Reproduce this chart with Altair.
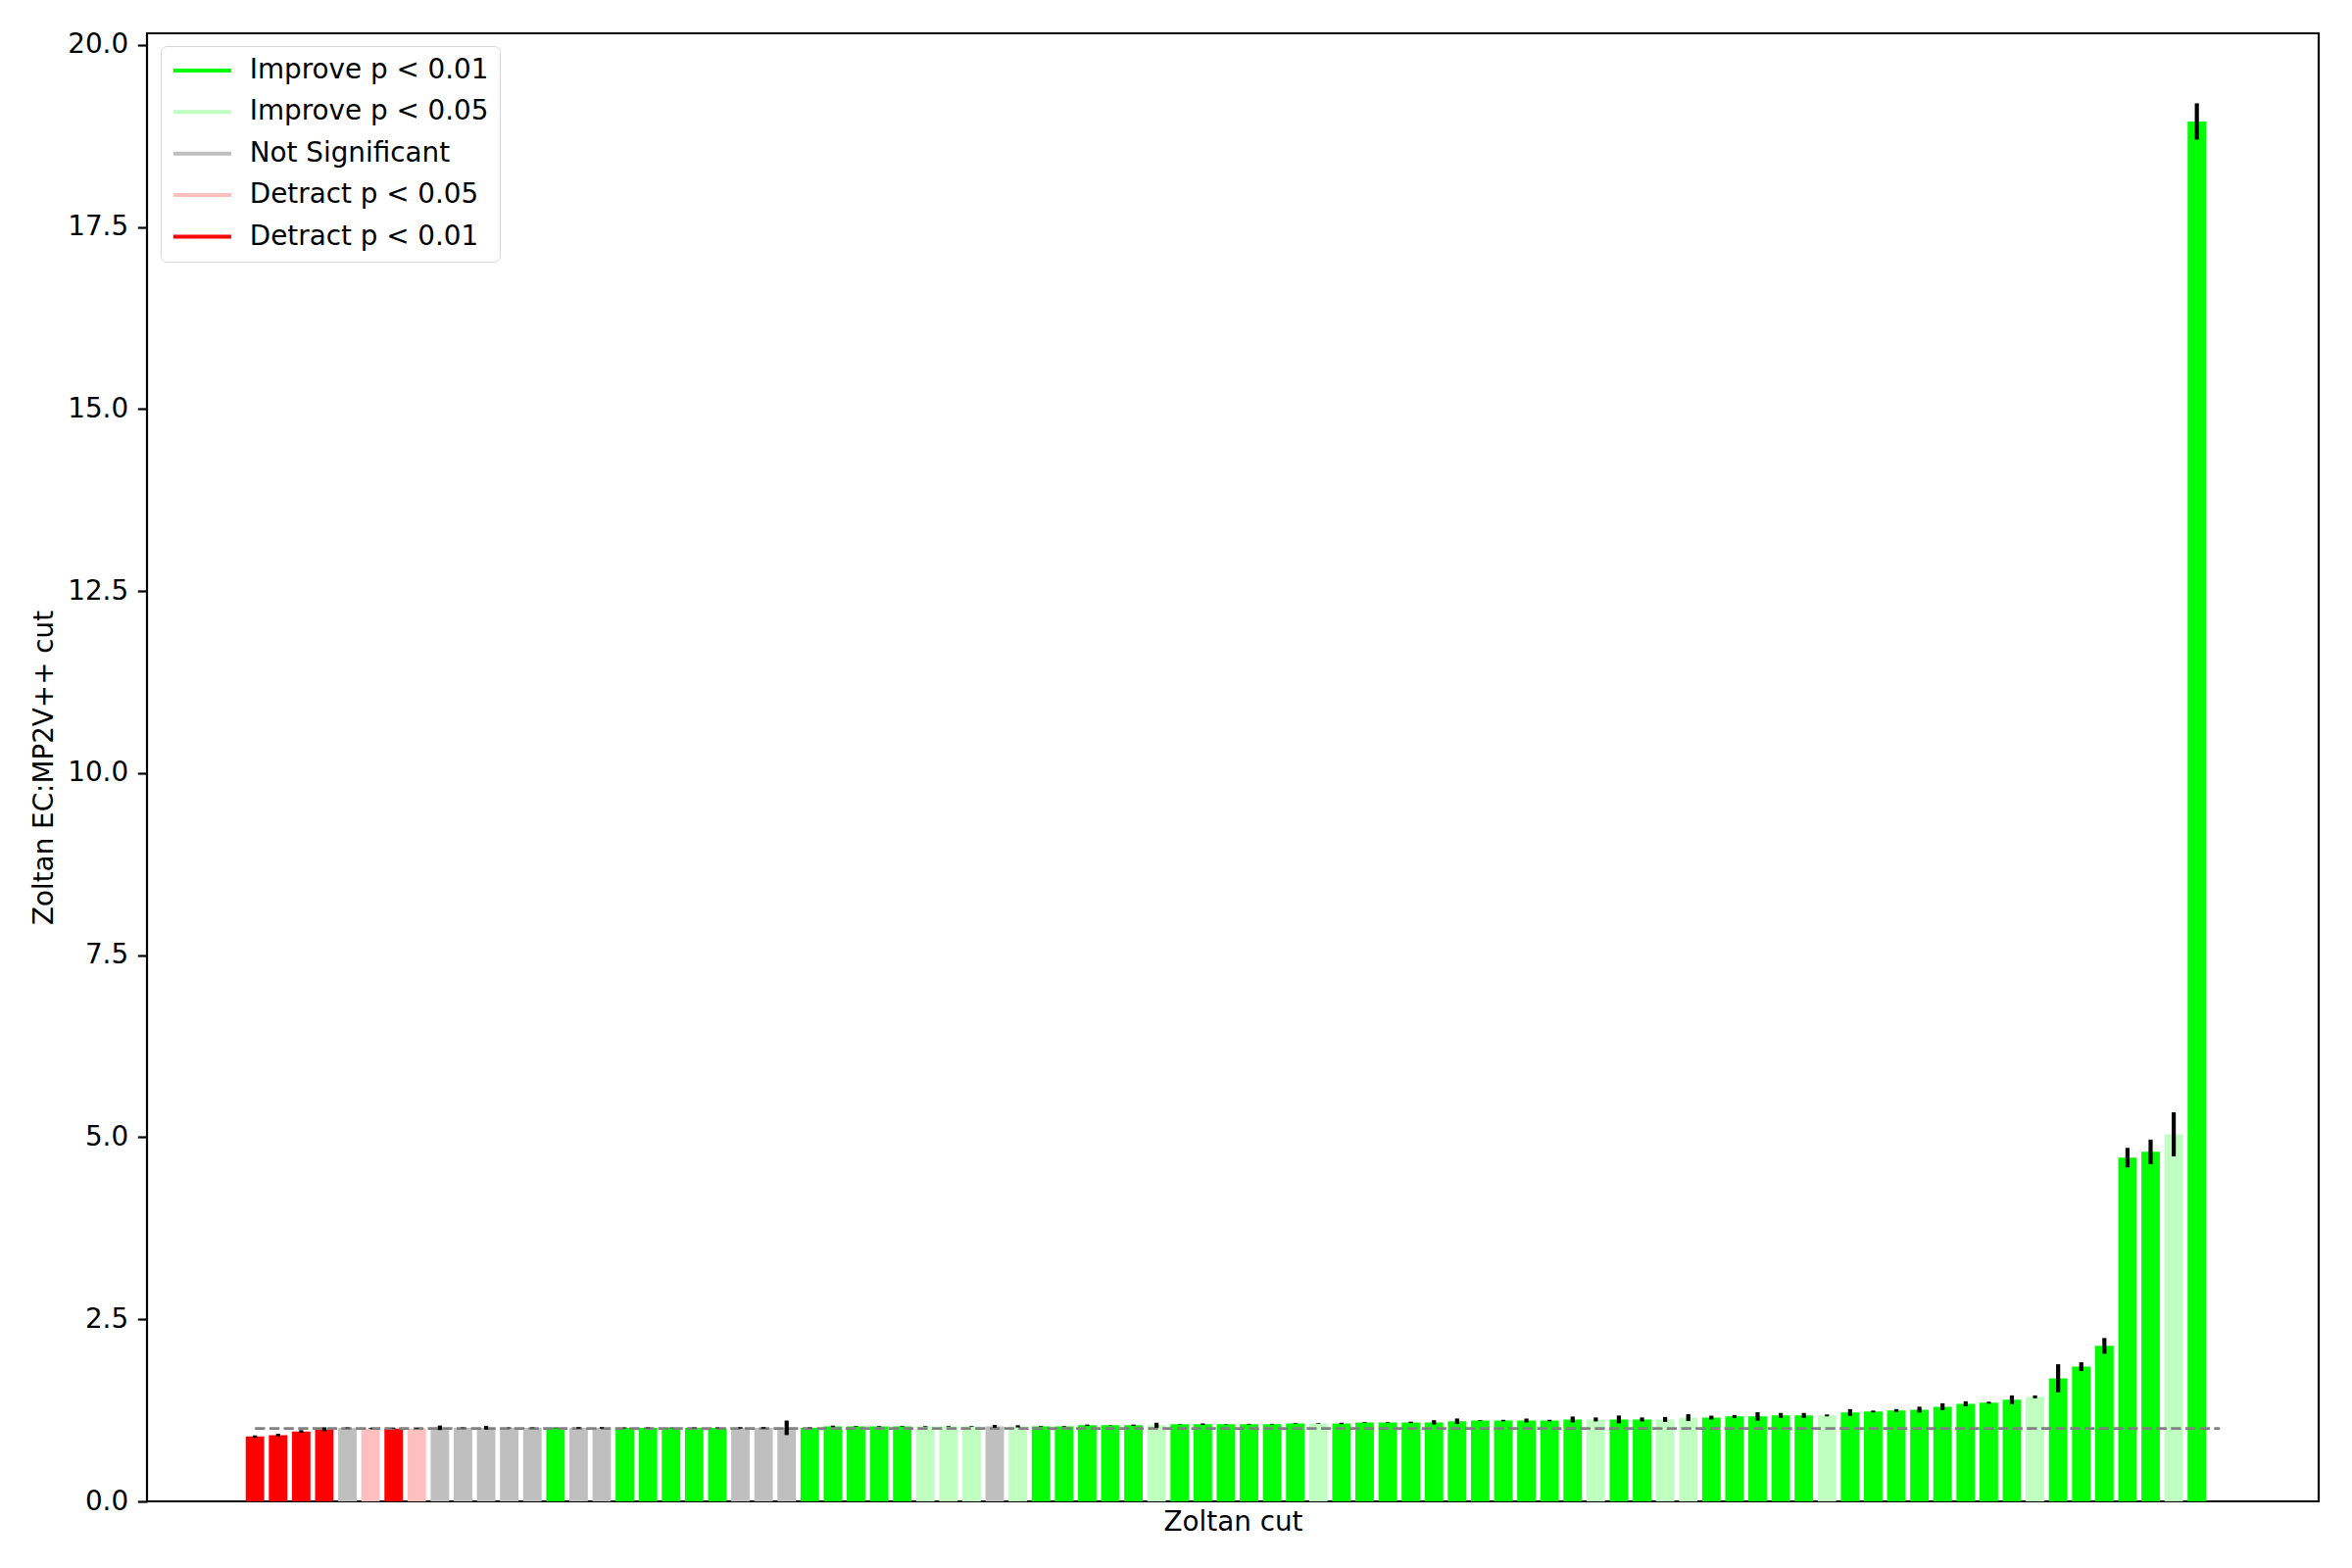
import altair as alt
import pandas as pd

# ---- data ----
cat_labels = ["Improve p < 0.01", "Improve p < 0.05", "Not Significant",
              "Detract p < 0.05", "Detract p < 0.01"]
cat_colors = ["#00ff00", "#bfffbf", "#bfbfbf", "#ffbfbf", "#ff0000"]

# category code per bar (I1, I5, NS, D5, D1)
cats = (
    ["D1", "D1", "D1", "D1", "NS", "D5", "D1", "D5", "NS", "NS",
     "NS", "NS", "NS", "I1", "NS", "NS", "I1", "I1", "I1", "I1",
     "I1", "NS", "NS", "NS", "I1", "I1", "I1", "I1", "I1", "I5",
     "I5", "I5", "NS", "I5", "I1", "I1", "I1", "I1", "I1", "I5",
     "I1", "I1", "I1", "I1", "I1", "I1", "I5", "I1", "I1", "I1",
     "I1", "I1", "I1", "I1", "I1", "I1", "I1", "I1", "I5", "I1",
     "I1", "I5", "I5", "I1", "I1", "I1", "I1", "I1", "I5", "I1",
     "I1", "I1", "I1", "I1", "I1", "I1", "I1", "I5", "I1", "I1",
     "I1", "I1", "I1", "I5", "I1"]
)

values = [
    0.89, 0.91, 0.96, 0.99, 1.01, 1.00, 1.00, 1.00, 1.01, 1.01,
    1.01, 1.01, 1.01, 1.01, 1.01, 1.01, 1.01, 1.01, 1.01, 1.01,
    1.01, 1.01, 1.01, 1.01, 1.01, 1.03, 1.03, 1.03, 1.03, 1.03,
    1.03, 1.03, 1.03, 1.03, 1.03, 1.03, 1.045, 1.045, 1.045, 1.045,
    1.06, 1.06, 1.06, 1.06, 1.06, 1.07, 1.07, 1.07, 1.085, 1.085,
    1.085, 1.085, 1.10, 1.11, 1.11, 1.11, 1.11, 1.125, 1.125, 1.125,
    1.125, 1.125, 1.15, 1.15, 1.166, 1.166, 1.18, 1.18, 1.18, 1.22,
    1.234, 1.247, 1.26, 1.30, 1.34, 1.355, 1.395, 1.435, 1.69, 1.85,
    2.135, 4.72, 4.80, 5.04, 18.95,
]

errors = [
    0.016, 0.018, 0.018, 0.027, 0.005, 0.005, 0.005, 0.005, 0.031, 0.005,
    0.025, 0.005, 0.005, 0.005, 0.01, 0.01, 0.005, 0.005, 0.005, 0.005,
    0.005, 0.01, 0.01, 0.10, 0.005, 0.01, 0.005, 0.005, 0.005, 0.005,
    0.005, 0.005, 0.02, 0.015, 0.005, 0.005, 0.01, 0.003, 0.01, 0.035,
    0.003, 0.01, 0.003, 0.005, 0.005, 0.005, 0.005, 0.01, 0.005, 0.005,
    0.01, 0.03, 0.038, 0.005, 0.01, 0.027, 0.01, 0.04, 0.027, 0.054,
    0.027, 0.034, 0.047, 0.027, 0.02, 0.058, 0.034, 0.034, 0.013, 0.047,
    0.013, 0.02, 0.04, 0.047, 0.034, 0.013, 0.06, 0.02, 0.193, 0.06,
    0.108, 0.134, 0.168, 0.303, 0.249,
]

baseline_value = 1.0
y_ticks = [0, 2.5, 5, 7.5, 10, 12.5, 15, 17.5, 20]

code_to_label = {"I1": cat_labels[0], "I5": cat_labels[1], "NS": cat_labels[2],
                 "D5": cat_labels[3], "D1": cat_labels[4]}
label_to_color = dict(zip(cat_labels, cat_colors))

n = len(values)
df = pd.DataFrame({
    "idx": list(range(n)),
    "value": values,
    "err": errors,
    "cat": [code_to_label[c] for c in cats],
})
df["hex"] = df["cat"].map(label_to_color)
df["x0"] = df["idx"] - 0.4
df["x1"] = df["idx"] + 0.4
df["lo"] = df["value"] - df["err"]
df["hi"] = df["value"] + df["err"]

line_df = pd.DataFrame({"xa": [0], "xb": [n], "yv": [baseline_value]})

FONT = "DejaVu Sans"
FS = 27.8

xscale = alt.Scale(domain=[-4.67, 89.27], nice=False, zero=False)
yscale = alt.Scale(domain=[0, 20.16], nice=False, zero=False)
cscale = alt.Scale(domain=cat_labels, range=cat_colors)

x_axis = alt.Axis(title="Zoltan cut", labels=False, ticks=False, grid=False,
                  domain=False, titlePadding=7, titleFont=FONT,
                  titleFontSize=FS, titleFontWeight="normal", titleColor="black")
y_axis = alt.Axis(title="Zoltan EC:MP2V++ cut", values=y_ticks, format=".1f",
                  grid=False, domain=False, tickColor="black", tickWidth=2.2,
                  tickSize=9.7, labelPadding=9.7, labelFont=FONT,
                  labelFontSize=FS, labelColor="black", titleFont=FONT,
                  titleFontSize=FS, titleFontWeight="normal",
                  titleColor="black", titlePadding=9)

bars = alt.Chart(df).mark_rect().encode(
    x=alt.X("x0:Q", scale=xscale, axis=x_axis),
    x2="x1:Q",
    y=alt.Y("value:Q", scale=yscale, axis=y_axis),
    y2=alt.datum(0),
    color=alt.Color("hex:N", scale=None),
)

legend_layer = alt.Chart(df).mark_rule(strokeCap="butt").encode(
    x="idx:Q",
    y="value:Q",
    y2="value:Q",
    stroke=alt.Stroke(
        "cat:N", scale=cscale,
        legend=alt.Legend(
            title=None, orient="none", legendX=14, legendY=13,
            symbolType="M-3,0H3", symbolSize=388, symbolStrokeWidth=4,
            symbolOffset=17.5, labelOffset=34.5, labelLimit=500,
            labelFont=FONT, labelFontSize=FS, labelColor="black",
            rowPadding=13.4, padding=11, strokeColor="#d6d6d6",
            fillColor="white", cornerRadius=6, symbolOpacity=1,
        ),
    ),
)

dashed = alt.Chart(line_df).mark_rule(
    color="#808080", strokeWidth=2.8, strokeDash=[10.3, 4.4]
).encode(x="xa:Q", x2="xb:Q", y="yv:Q")

err_bars = alt.Chart(df).mark_rule(color="black", strokeWidth=4.2,
                                   strokeCap="butt").encode(
    x="idx:Q", y="lo:Q", y2="hi:Q")

chart = alt.layer(bars, legend_layer, dashed, err_bars).properties(
    width=2216, height=1498,
    autosize=alt.AutoSizeParams(type="none"),
    padding={"left": 150, "top": 34, "right": 34, "bottom": 68},
    background="white",
).configure_view(stroke="black", strokeWidth=2.2)

chart.save("out.html", embed_options={"renderer": "svg", "actions": False})
